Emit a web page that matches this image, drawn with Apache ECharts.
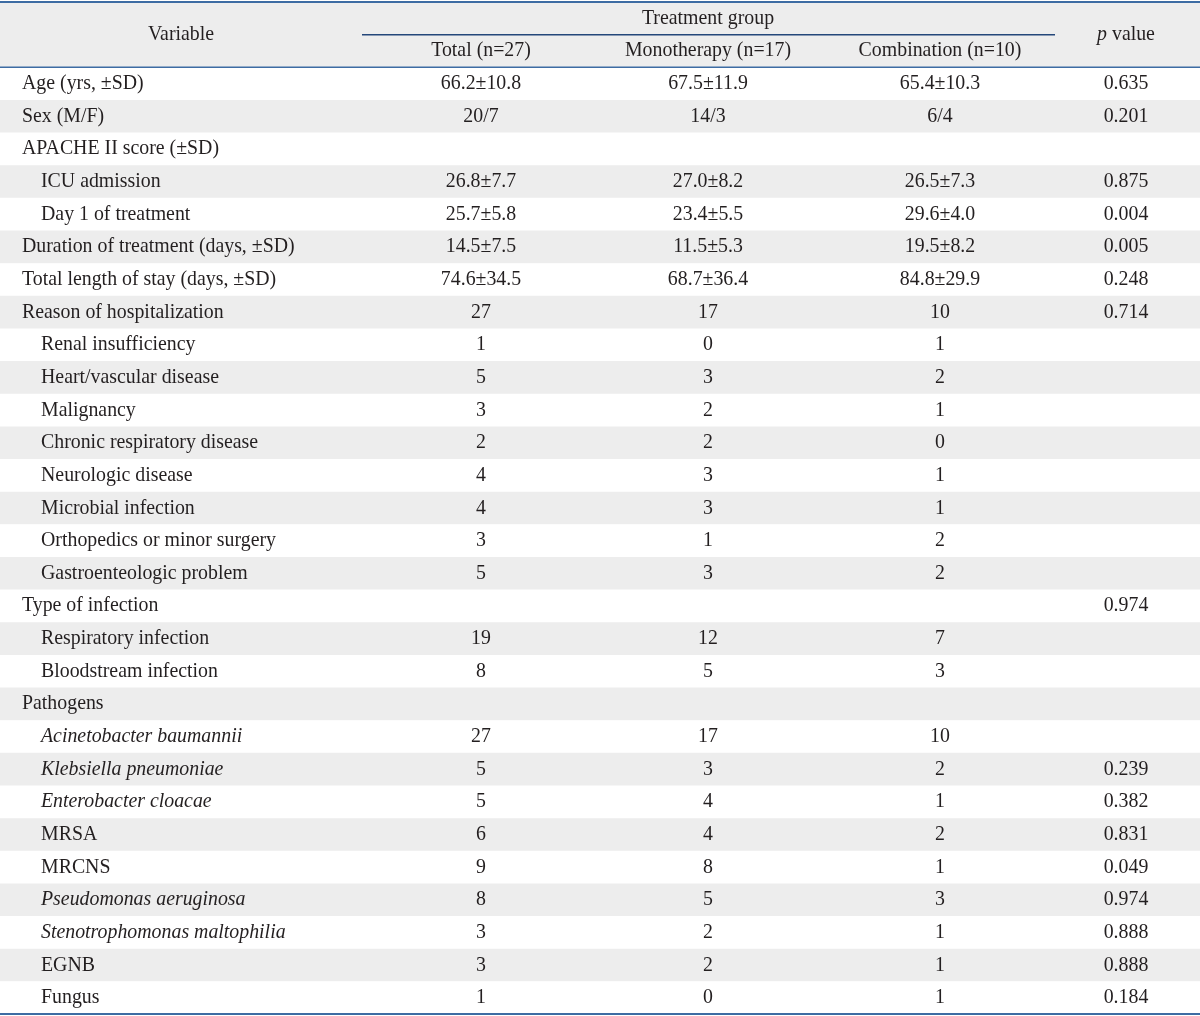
<!DOCTYPE html>
<html>
<head>
<meta charset="utf-8">
<script src="https://cdn.jsdelivr.net/npm/echarts@6/dist/echarts.min.js"></script>
<style>
html,body{margin:0;padding:0;background:#fff;}
#chart{width:1200px;height:1016px;}
</style>
</head>
<body>
<div id="chart"></div>
<script>
// ---------- DATA ----------
const groupHeader = 'Treatment group';
const variableHeader = 'Variable';
const pHeader = '{i|p} value';
const columnHeaders = ['Total (n=27)', 'Monotherapy (n=17)', 'Combination (n=10)'];

const variables = [
  'Age (yrs, \u00b1SD)', 'Sex (M/F)', 'APACHE II score (\u00b1SD)', 'ICU admission', 'Day 1 of treatment',
  'Duration of treatment (days, \u00b1SD)', 'Total length of stay (days, \u00b1SD)', 'Reason of hospitalization',
  'Renal insufficiency', 'Heart/vascular disease', 'Malignancy', 'Chronic respiratory disease',
  'Neurologic disease', 'Microbial infection', 'Orthopedics or minor surgery', 'Gastroenteologic problem',
  'Type of infection', 'Respiratory infection', 'Bloodstream infection', 'Pathogens',
  'Acinetobacter baumannii', 'Klebsiella pneumoniae', 'Enterobacter cloacae', 'MRSA', 'MRCNS',
  'Pseudomonas aeruginosa', 'Stenotrophomonas maltophilia', 'EGNB', 'Fungus'
];
const totalValues = [
  '66.2\u00b110.8', '20/7', '', '26.8\u00b17.7', '25.7\u00b15.8', '14.5\u00b17.5', '74.6\u00b134.5', '27',
  '1', '5', '3', '2', '4', '4', '3', '5', '', '19', '8', '', '27', '5', '5', '6', '9', '8', '3', '3', '1'
];
const monoValues = [
  '67.5\u00b111.9', '14/3', '', '27.0\u00b18.2', '23.4\u00b15.5', '11.5\u00b15.3', '68.7\u00b136.4', '17',
  '0', '3', '2', '2', '3', '3', '1', '3', '', '12', '5', '', '17', '3', '4', '4', '8', '5', '2', '2', '0'
];
const comboValues = [
  '65.4\u00b110.3', '6/4', '', '26.5\u00b17.3', '29.6\u00b14.0', '19.5\u00b18.2', '84.8\u00b129.9', '10',
  '1', '2', '1', '0', '1', '1', '2', '2', '', '7', '3', '', '10', '2', '1', '2', '1', '3', '1', '1', '1'
];
const pValues = [
  '0.635', '0.201', '', '0.875', '0.004', '0.005', '0.248', '0.714',
  '', '', '', '', '', '', '', '', '0.974', '', '', '', '', '0.239', '0.382', '0.831', '0.049',
  '0.974', '0.888', '0.888', '0.184'
];
// row structure: indent level and italic (species names)
const indentLevel = [0,0,0,1,1,0,0,0,1,1,1,1,1,1,1,1,0,1,1,0,1,1,1,1,1,1,1,1,1];
const italicRows  = [0,0,0,0,0,0,0,0,0,0,0,0,0,0,0,0,0,0,0,0,1,1,1,0,0,1,1,0,0];

// ---------- LAYOUT / STYLE ----------
const HEADER_ROWS = 2;
const layout = {
  width: 1200,
  labelX: [22, 41],
  variableCenter: 181,
  colCenters: [481, 708, 940],
  pCenter: 1126,
  groupLine: [362, 1055],
  groupCenter: 708
};
const style = {
  font: '"Liberation Serif", "Times New Roman", serif',
  size: 21,
  scaleX: 0.945,
  color: '#231f20',
  gray: '#ededed',
  rule: '#3d6ca3',
  ruleDark: '#24477a'
};

const rowCount = HEADER_ROWS + variables.length;
const rowCats = [];
for (let i = 0; i < rowCount; i++) rowCats.push(String(i));

function txt(x, y, text, align, italic, rich) {
  return {
    type: 'text',
    x: x, y: y,
    scaleX: style.scaleX,
    style: {
      x: 0, y: 0,
      text: text,
      fill: style.color,
      fontFamily: style.font,
      fontSize: style.size,
      fontStyle: italic ? 'italic' : 'normal',
      align: align,
      verticalAlign: 'middle',
      rich: rich
    }
  };
}

function renderRow(params, api) {
  const i = api.value(1);
  const c = api.coord([0, i]);
  const bh = api.size([0, 1])[1];
  const yc = c[1];
  const top = yc - bh / 2;
  const X = v => api.coord([v, i])[0];
  const children = [];
  const isHeader = i < HEADER_ROWS;
  const d = i - HEADER_ROWS;
  const gray = isHeader || (d % 2 === 1);
  children.push({
    type: 'rect',
    shape: { x: X(0), y: top, width: X(layout.width) - X(0), height: bh + 0.5 },
    style: { fill: gray ? style.gray : '#ffffff' }
  });
  if (i === 0) {
    children.push(txt(X(layout.groupCenter), yc, groupHeader, 'center', false));
  } else if (i === 1) {
    columnHeaders.forEach((h, k) => children.push(txt(X(layout.colCenters[k]), yc, h, 'center', false)));
    // headers spanning both header rows, centred on the boundary between them
    children.push(txt(X(layout.variableCenter), top, variableHeader, 'center', false));
    children.push(txt(X(layout.pCenter), top, pHeader, 'center', false, {
      i: { fontFamily: style.font, fontSize: style.size, fontStyle: 'italic', fill: style.color }
    }));
  } else {
    children.push(txt(X(layout.labelX[indentLevel[d]]), yc, variables[d], 'left', !!italicRows[d]));
    [totalValues, monoValues, comboValues].forEach((arr, k) => {
      if (arr[d]) children.push(txt(X(layout.colCenters[k]), yc, arr[d], 'center', false));
    });
    if (pValues[d]) children.push(txt(X(layout.pCenter), yc, pValues[d], 'center', false));
  }
  return { type: 'group', children: children };
}

function renderRules(params, api) {
  const bh = api.size([0, 1])[1];
  const yTop = api.coord([0, 0])[1] - bh / 2;
  const yHeadMid = api.coord([0, 1])[1] - bh / 2;
  const yHeadBot = api.coord([0, HEADER_ROWS])[1] - bh / 2;
  const yBot = api.coord([0, rowCount - 1])[1] + bh / 2;
  const X = v => api.coord([v, 0])[0];
  const line = (x1, x2, y, color, w) => ({
    type: 'line',
    shape: { x1: x1, y1: y, x2: x2, y2: y },
    style: { stroke: color, lineWidth: w }
  });
  return {
    type: 'group',
    children: [
      line(X(0), X(layout.width), yTop, style.rule, 2),
      line(X(layout.groupLine[0]), X(layout.groupLine[1]), yHeadMid, style.ruleDark, 1.5),
      line(X(0), X(layout.width), yHeadBot, style.rule, 1.5),
      line(X(0), X(layout.width), yBot, style.rule, 2)
    ]
  };
}

const chart = echarts.init(document.getElementById('chart'), null, { renderer: 'canvas' });
const rowData = rowCats.map((_, i) => [0, i]);
chart.setOption({
  animation: false,
  backgroundColor: '#ffffff',
  grid: { left: 0, right: 0, top: 2, bottom: 2 },
  xAxis: { type: 'value', min: 0, max: layout.width, show: false },
  yAxis: { type: 'category', data: rowCats, inverse: true, show: false, boundaryGap: true },
  series: [
    { type: 'custom', renderItem: renderRow, data: rowData, encode: { x: 0, y: 1 }, silent: true, clip: false, z: 1 },
    { type: 'custom', renderItem: renderRules, data: [[0, 0]], encode: { x: 0, y: 1 }, silent: true, clip: false, z: 5 }
  ]
});
</script>
</body>
</html>
